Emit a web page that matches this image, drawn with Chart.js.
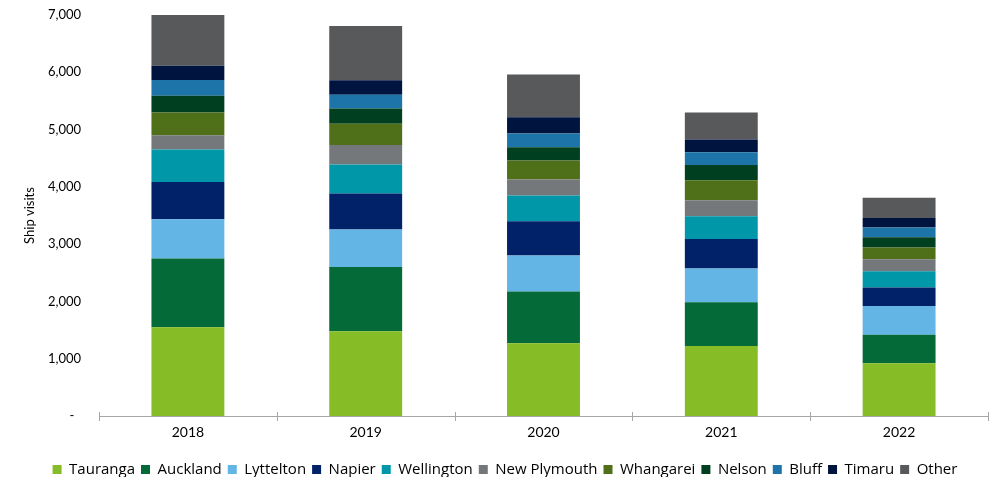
<!DOCTYPE html>
<html>
<head>
<meta charset="utf-8">
<script src="https://cdn.jsdelivr.net/npm/chart.js@4.4.1/dist/chart.umd.min.js"></script>
<style>
    html, body { margin: 0; padding: 0; background: #fff; }
    #wrap { width: 993px; height: 477px; position: relative; }
</style>
</head>
<body>
<div id="wrap"><canvas id="myChart"></canvas></div>
<script>
var years = ['2018', '2019', '2020', '2021', '2022'];

var tauranga   = [1550, 1480, 1270, 1220, 920];
var auckland   = [1200, 1120, 905, 765, 500];
var lyttelton  = [685, 655, 625, 590, 500];
var napier     = [650, 630, 600, 515, 325];
var wellington = [565, 505, 450, 395, 280];
var newPlymouth = [250, 340, 280, 280, 210];
var whangarei  = [400, 370, 330, 350, 205];
var nelson     = [290, 270, 230, 265, 180];
var bluff      = [275, 240, 240, 225, 170];
var timaru     = [250, 250, 285, 220, 165];
var other      = [885, 950, 745, 475, 355];

var yTicks = [0, 1000, 2000, 3000, 4000, 5000, 6000, 7000];

var series = [
    {label: 'Tauranga', data: tauranga, color: '#86BC25'},
    {label: 'Auckland', data: auckland, color: '#046A38'},
    {label: 'Lyttelton', data: lyttelton, color: '#62B5E5'},
    {label: 'Napier', data: napier, color: '#012169'},
    {label: 'Wellington', data: wellington, color: '#0097A9'},
    {label: 'New Plymouth', data: newPlymouth, color: '#75787B'},
    {label: 'Whangarei', data: whangarei, color: '#4F6F19'},
    {label: 'Nelson', data: nelson, color: '#003F1F'},
    {label: 'Bluff', data: bluff, color: '#1D74A8'},
    {label: 'Timaru', data: timaru, color: '#001440'},
    {label: 'Other', data: other, color: '#58595B'}
];

var FONT = 'Lato, "Open Sans", sans-serif';
var LEGEND_FONT = '"Open Sans", Lato, sans-serif';
var AXIS_GREY = '#A6A6A6';

// tick marks crossing the x axis at every category boundary
var boundaryTicks = {
    id: 'boundaryTicks',
    afterDraw: function(chart) {
        var x = chart.scales.x;
        var ctx = chart.ctx;
        var y = x.top;
        var step = (x.right - x.left) / years.length;
        ctx.save();
        ctx.strokeStyle = AXIS_GREY;
        ctx.lineWidth = 1;
        ctx.beginPath();
        for (var i = 0; i <= years.length; i++) {
            var px = Math.round(x.left + i * step) + 0.5;
            ctx.moveTo(px, y - 4);
            ctx.lineTo(px, y + 5);
        }
        ctx.stroke();
        ctx.restore();
    }
};

function each(list, fn) {
    for (var i = 0; i < list.length; i++) fn(list[i], i);
}

function buildDatasets() {
    var datasets = [];
    each(series, function(s) {
        datasets.push({
            label: s.label,
            data: s.data,
            backgroundColor: s.color,
            borderWidth: 0,
            barPercentage: 0.41,
            categoryPercentage: 1.0
        });
    });
    return datasets;
}

var ctx = document.getElementById('myChart');
var chart = new Chart(ctx, {
    type: 'bar',
    data: {
        labels: years,
        datasets: buildDatasets()
    },
    plugins: [boundaryTicks],
    options: {
        responsive: true,
        maintainAspectRatio: false,
        animation: false,
        layout: {padding: {top: 15, right: 5, left: 22, bottom: -10}},
        plugins: {
            legend: {
                position: 'bottom',
                labels: {
                    boxWidth: 9,
                    boxHeight: 9,
                    padding: 6,
                    color: '#000',
                    font: {family: LEGEND_FONT, size: 15}
                }
            },
            tooltip: {enabled: false}
        },
        scales: {
            x: {
                stacked: true,
                afterFit: function(scale) { scale.height = 40; },
                grid: {display: false, drawTicks: false},
                border: {display: true, color: AXIS_GREY, width: 1},
                ticks: {
                    color: '#000',
                    padding: 8,
                    font: {family: FONT, size: 14}
                }
            },
            y: {
                stacked: true,
                min: 0,
                max: 7000,
                afterFit: function(scale) {
                    scale.width = 77;
                    // label padding is horizontal only here
                    scale.paddingTop = 0;
                    scale.paddingBottom = 0;
                },
                afterBuildTicks: function(scale) {
                    scale.ticks = yTicks.map(function(v) { return {value: v}; });
                },
                grid: {display: false, drawTicks: false},
                border: {display: false},
                title: {
                    display: true,
                    text: 'Ship visits',
                    color: '#000',
                    padding: {top: 0, bottom: 12},
                    font: {family: FONT, size: 13}
                },
                ticks: {
                    color: '#000',
                    padding: 18,
                    font: {family: FONT, size: 13},
                    callback: function(value) {
                        return value === 0 ? '-  ' : value.toLocaleString('en-US');
                    }
                }
            }
        }
    }
});
</script>
</body>
</html>
